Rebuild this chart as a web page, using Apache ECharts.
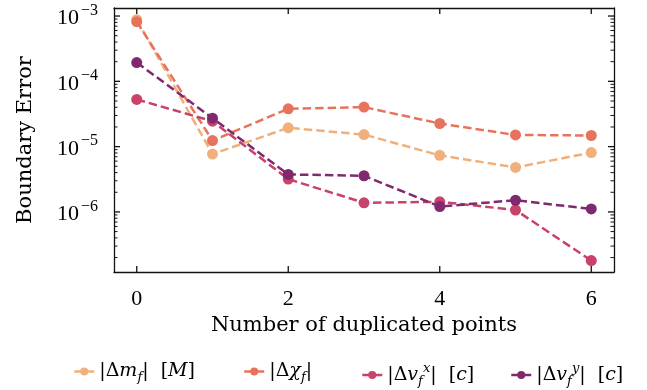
<!DOCTYPE html>
<html>
<head>
<meta charset="utf-8">
<script src="https://cdn.jsdelivr.net/npm/echarts@6/dist/echarts.min.js"></script>
<style>html,body{margin:0;padding:0;background:#fff;}#c{width:647px;height:390px;}</style>
</head>
<body>
<div id="c"></div>
<script>
// ---- data ----
const xValues = [0, 1, 2, 3, 4, 5, 6];
const massErr = [8.8e-4, 7.7e-6, 1.94e-5, 1.53e-5, 7.35e-6, 4.8e-6, 8.1e-6];
const chiErr  = [8.2e-4, 1.24e-5, 3.8e-5, 4.03e-5, 2.26e-5, 1.51e-5, 1.48e-5];
const vxErr   = [5.28e-5, 2.45e-5, 3.18e-6, 1.38e-6, 1.43e-6, 1.07e-6, 1.8e-7];
const vyErr   = [1.94e-4, 2.73e-5, 3.75e-6, 3.58e-6, 1.21e-6, 1.51e-6, 1.11e-6];
const seriesNames = ['mf', 'chi', 'vx', 'vy'];
const xTicks = [0, 2, 4, 6];
const yDecades = [-6, -5, -4, -3];
const xTitle = 'Number of duplicated points';
const yTitle = 'Boundary Error';

const colors = ['#f0b07b', '#e8735c', '#c8426a', '#7f2a6e'];
const NUMFONT = 'Liberation Serif';
const FONT = 'DejaVu Serif';

const lg = v => Math.log10(v);
const yMin = -6.92, yMax = -2.877;
const xMin = -0.3, xMax = 6.3;
const minorVals = [];
for (let d = -7; d <= -3; d++) {
  for (let k = 2; k <= 9; k++) {
    const v = d + Math.log10(k);
    if (v > yMin && v < yMax) minorVals.push(v);
  }
}
// tick definitions: [kind, value]  kind 0 = x major, 1 = y major, 2 = y minor
const tickData = []
  .concat(xTicks.map(v => [0, v]))
  .concat(yDecades.map(v => [1, v]))
  .concat(minorVals.map(v => [2, v]));

const chart = echarts.init(document.getElementById('c'), null, {renderer: 'canvas'});

const richNum = {
  b: {fontFamily: NUMFONT, fontSize: 22, color: '#000', verticalAlign: 'bottom', lineHeight: 27},
  s: {fontFamily: NUMFONT, fontSize: 16, color: '#000', verticalAlign: 'top', lineHeight: 14, padding: [0, 0, 0, 2]}
};

function mkSeries(name, arr, i) {
  return {
    name: name, type: 'line',
    data: xValues.map((x, j) => [x, lg(arr[j])]),
    symbol: 'circle', symbolSize: 11,
    itemStyle: {color: colors[i]},
    lineStyle: {color: colors[i], width: 2.5, type: [8.5, 4]},
    emphasis: {disabled: true}, animation: false, z: 2 + i
  };
}

const legendRich = {
  r: {fontFamily: FONT, fontSize: 19, color: '#000', lineHeight: 26, verticalAlign: 'middle'},
  i: {fontFamily: FONT, fontSize: 19, fontStyle: 'italic', color: '#000', lineHeight: 26, verticalAlign: 'middle'},
  sb: {fontFamily: FONT, fontSize: 13, fontStyle: 'italic', color: '#000', lineHeight: 13, verticalAlign: 'bottom'},
  sp: {fontFamily: FONT, fontSize: 13, fontStyle: 'italic', color: '#000', lineHeight: 13, verticalAlign: 'top'}
};
const legendText = {
  mf: '{r||Δ}{i|m}{sb|f}{r||  [}{i|M}{r|]}',
  chi: '{r||Δ}{i|χ}{sb|f}{r||}',
  vx: '{r||Δ}{i|v}{sb|f}{sp|x}{r||  [}{i|c}{r|]}',
  vy: '{r||Δ}{i|v}{sb|f}{sp|y}{r||  [}{i|c}{r|]}'
};
const legendLeft = [68, 238, 356, 505];

const axisLineStyle = {color: '#111', width: 1.3};

function renderTick(params, api) {
  const cs = params.coordSys;
  const kind = api.value(0), val = api.value(1);
  const st = {stroke: '#111', lineWidth: kind === 2 ? 1 : 1.3};
  const children = [];
  if (kind === 0) {
    const px = api.coord([val, yMin])[0];
    const b = cs.y + cs.height, t = cs.y, L = 6;
    children.push({type: 'line', shape: {x1: px, y1: b, x2: px, y2: b - L}, style: st});
    children.push({type: 'line', shape: {x1: px, y1: t, x2: px, y2: t + L}, style: st});
  } else {
    const py = api.coord([xMin, val])[1];
    const l = cs.x, r = cs.x + cs.width, L = kind === 1 ? 6 : 3.5;
    children.push({type: 'line', shape: {x1: l, y1: py, x2: l + L, y2: py}, style: st});
    children.push({type: 'line', shape: {x1: r, y1: py, x2: r - L, y2: py}, style: st});
  }
  return {type: 'group', children: children};
}

const option = {
  animation: false,
  backgroundColor: '#fff',
  grid: {left: 114, right: 33, top: 8, bottom: 118, containLabel: false},
  legend: seriesNames.map((n, i) => ({
    data: [n], left: legendLeft[i], top: 357,
    itemWidth: 20, itemHeight: 10, itemGap: 0,
    lineStyle: {type: 'solid', width: 2.5},
    formatter: nm => legendText[nm],
    textStyle: {rich: legendRich},
    selectedMode: false
  })),
  xAxis: [
    {
      type: 'value', position: 'bottom', min: xMin, max: xMax,
      axisLine: {show: true, onZero: false, lineStyle: axisLineStyle},
      axisTick: {show: false},
      axisLabel: {show: true, customValues: xTicks, fontFamily: NUMFONT, fontSize: 22, color: '#000', margin: 16},
      splitLine: {show: false},
      name: xTitle, nameLocation: 'middle', nameGap: 43,
      nameTextStyle: {fontFamily: FONT, fontSize: 21, color: '#000'}
    },
    {
      type: 'value', position: 'top', min: xMin, max: xMax,
      axisLine: {show: true, onZero: false, lineStyle: axisLineStyle},
      axisTick: {show: false}, axisLabel: {show: false}, splitLine: {show: false}
    }
  ],
  yAxis: [
    {
      type: 'value', position: 'left', min: yMin, max: yMax,
      axisLine: {show: true, onZero: false, lineStyle: axisLineStyle},
      axisTick: {show: false},
      axisLabel: {show: true, customValues: yDecades, margin: 16,
        formatter: v => '{b|10}{s|' + (v < 0 ? '\u2212' : '') + Math.abs(Math.round(v)) + '}',
        rich: richNum},
      splitLine: {show: false},
      name: yTitle, nameLocation: 'middle', nameGap: 78, nameRotate: 90,
      nameTextStyle: {fontFamily: FONT, fontSize: 21, color: '#000'}
    },
    {
      type: 'value', position: 'right', min: yMin, max: yMax,
      axisLine: {show: true, onZero: false, lineStyle: axisLineStyle},
      axisTick: {show: false}, axisLabel: {show: false}, splitLine: {show: false}
    }
  ],
  series: [
    {
      type: 'custom', name: 'ticks', renderItem: renderTick,
      data: tickData, encode: {x: -1, y: -1},
      silent: true, clip: false, z: 10, animation: false
    },
    mkSeries('mf', massErr, 0),
    mkSeries('chi', chiErr, 1),
    mkSeries('vx', vxErr, 2),
    mkSeries('vy', vyErr, 3)
  ]
};
chart.setOption(option);
</script>
</body>
</html>
